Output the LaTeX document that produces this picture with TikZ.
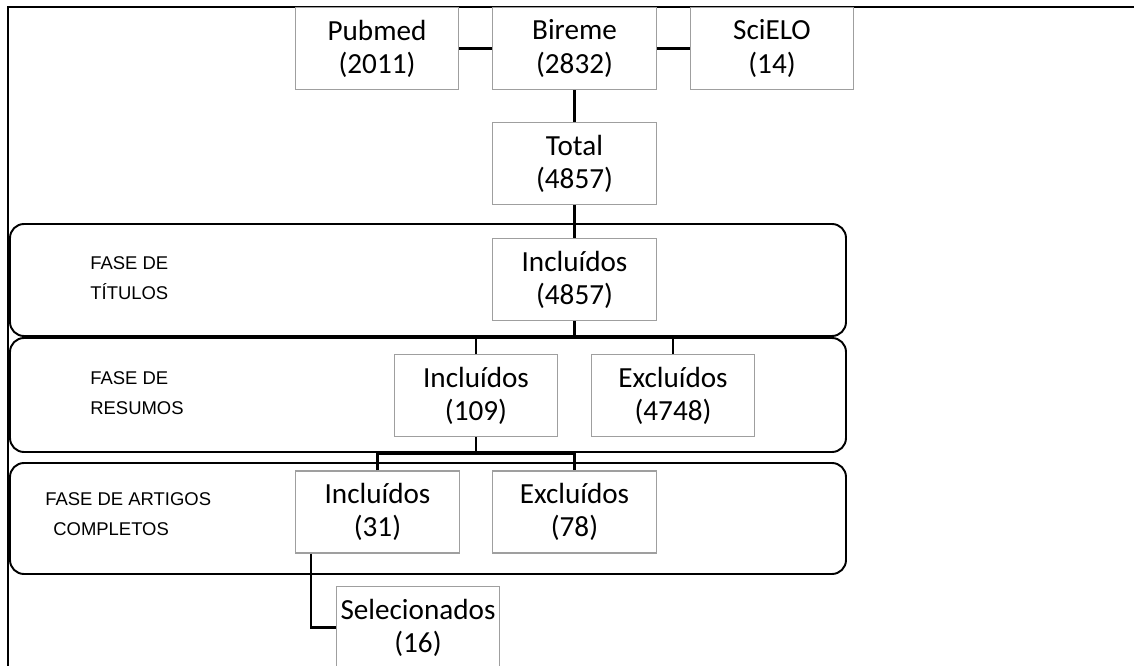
\documentclass[tikz,border=0pt]{standalone}
\usepackage{fontspec}
\setmainfont{Carlito}
\newfontfamily\phasefont{Liberation Sans}
\usetikzlibrary{positioning}

\begin{document}
\begin{tikzpicture}[
  x=0.02cm, y=-0.02cm,
  dbbox/.style={draw=gray!75, line width=0.6pt, minimum width=3.27cm,
    minimum height=1.64cm, inner sep=0pt, align=center,
    font=\fontsize{16.6}{18.9}\selectfont},
  phase/.style={draw, line width=1.1pt, rounded corners=0.28cm},
  phaselabel/.style={anchor=west, inner sep=0pt, align=left,
    font=\phasefont\fontsize{10.5}{17}\selectfont},
  link/.style={line width=1.3pt},
]
\useasboundingbox (0,0) rectangle (1134,666);
\draw [line width=0.8pt] (8,666) -- (8,7) -- (1134,7);

% phases
\draw [phase] (10,224) rectangle (846,336);
\draw [phase] (10,338) rectangle (846,452);
\draw [phase] (10,463) rectangle (846,574);
\node [phaselabel] (lbltit) at (90,278.5) {FASE DE\\TÍTULOS};
\node [phaselabel] (lblres) at (90,393.5) {FASE DE\\RESUMOS};
\node [phaselabel] (lblart) at (45,514) {FASE DE ARTIGOS\\\hspace{0.16cm}COMPLETOS};

% databases
\node [dbbox] (pubmed) at (377,48.5) {Pubmed\\(2011)};
\node [dbbox] (bireme) at (574.5,48.5) {Bireme\\(2832)};
\node [dbbox] (scielo) at (772,48.5) {SciELO\\(14)};
\node [dbbox] (total) at (574.5,163.5) {Total\\(4857)};

% screening
\node [dbbox] (inctit) at (574.5,279.5) {Incluídos\\(4857)};
\node [dbbox] (incres) at (476,395.5) {Incluídos\\(109)};
\node [dbbox] (excres) at (673,395.5) {Excluídos\\(4748)};
\node [dbbox] (incart) at (377.5,512) {Incluídos\\(31)};
\node [dbbox] (excart) at (574.5,512) {Excluídos\\(78)};
\node [dbbox] (selec) at (418,627.5) {Selecionados\\(16)};

\draw [link] (pubmed) -- (bireme);
\draw [link] (bireme) -- (scielo);
\draw [link] (bireme) -- (total);
\draw [link] (total) -- (inctit);

\draw [link] (inctit.south) -- ++(0,15);
\draw [link] (incres.north) -- ++(0,-18) -| (excres.north);
\draw [link] (incres.south) -- ++(0,16);
\draw [link] (incart.north) -- ++(0,-17) -| (excart.north);
\draw [link] ([xshift=0.32cm]incart.south west) |- (selec.west);
\end{tikzpicture}
\end{document}
